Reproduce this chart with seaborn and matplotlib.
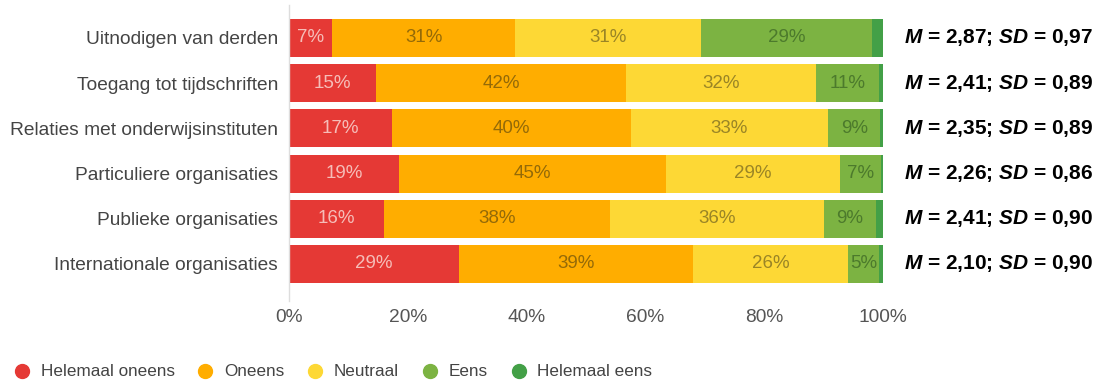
import matplotlib
matplotlib.use("Agg")
import matplotlib.pyplot as plt
from matplotlib.lines import Line2D
import numpy as np
import pandas as pd
import seaborn as sns

# ---- data -----------------------------------------------------------------
categories = [
    "Uitnodigen van derden",
    "Toegang tot tijdschriften",
    "Relaties met onderwijsinstituten",
    "Particuliere organisaties",
    "Publieke organisaties",
    "Internationale organisaties",
]
levels = ["Helemaal oneens", "Oneens", "Neutraal", "Eens", "Helemaal eens"]

helemaal_oneens = [7.3, 14.7, 17.4, 18.6, 16.0, 28.7]
oneens = [30.8, 42.0, 40.1, 44.8, 38.0, 39.3]
neutraal = [31.2, 32.0, 33.3, 29.3, 36.0, 26.1]
eens = [28.9, 10.6, 8.7, 6.9, 8.9, 5.2]
helemaal_eens = [1.8, 0.7, 0.5, 0.4, 1.1, 0.7]

means = ["2,87", "2,41", "2,35", "2,26", "2,41", "2,10"]
sds = ["0,97", "0,89", "0,89", "0,86", "0,90", "0,90"]

colors = ["#e53935", "#ffad00", "#fdd835", "#7cb342", "#43a047"]
label_colors = ["#f6bdb8", "#946a08", "#9a8526", "#4c7a2c", "#2e6b31"]

# ---- styling --------------------------------------------------------------
sns.set_theme(style="white")
plt.rcParams["font.family"] = ["Liberation Sans", "DejaVu Sans"]
plt.rcParams["mathtext.fontset"] = "custom"
plt.rcParams["mathtext.bfit"] = "Liberation Sans:bold:italic"
plt.rcParams["mathtext.bf"] = "Liberation Sans:bold"
plt.rcParams["mathtext.rm"] = "Liberation Sans:bold"

series = [helemaal_oneens, oneens, neutraal, eens, helemaal_eens]
df = pd.DataFrame({lvl: vals for lvl, vals in zip(levels, series)}, index=categories)
cum = df.cumsum(axis=1)

fig = plt.figure(figsize=(11, 3.8), dpi=100)
ax = fig.add_axes([289 / 1100, 1 - 301 / 380, (883 - 289) / 1100, (301 - 5) / 380])

# stacked bars: draw cumulative totals from the outermost level inwards
for lvl, col in reversed(list(zip(levels, colors))):
    sns.barplot(
        x=cum[lvl].values, y=categories, orient="h", color=col,
        saturation=1, width=0.84, ax=ax, linewidth=0,
    )

# percentage labels inside the segments
starts = cum.shift(1, axis=1).fillna(0)
for i, cat in enumerate(categories):
    for j, lvl in enumerate(levels):
        v = df.loc[cat, lvl]
        if v < 3:
            continue
        mid = starts.loc[cat, lvl] + v / 2
        ax.text(mid, i, f"{round(v):d}%", ha="center", va="center",
                fontsize=13.5, color=label_colors[j])

# mean / SD annotations right of the bars
for i in range(len(categories)):
    ax.text(103.6, i, rf"$\mathbfit{{M}}$ = {means[i]}; $\mathbfit{{SD}}$ = {sds[i]}",
            ha="left", va="center", fontsize=15, fontweight="bold",
            color="#000000", clip_on=False)

ax.set_xlim(0, 100)
ax.set_ylim(5.82, -0.73)
ax.set_xticks([0, 20, 40, 60, 80, 100])
ax.set_xticklabels([f"{t}%" for t in [0, 20, 40, 60, 80, 100]])
ax.tick_params(axis="x", length=0, pad=6, labelsize=13.8, labelcolor="#555555")
ax.tick_params(axis="y", length=0, pad=8, labelsize=13.8, labelcolor="#444444")
ax.set_xlabel("")
ax.set_ylabel("")
for side in ["top", "right", "bottom"]:
    ax.spines[side].set_visible(False)
ax.spines["left"].set_color("#dddddd")
ax.spines["left"].set_linewidth(1)
ax.grid(False)

# legend with round markers
handles = [
    Line2D([0], [0], marker="o", linestyle="none", markersize=10,
           markerfacecolor=c, markeredgecolor=c, label=l)
    for l, c in zip(levels, colors)
]
fig.legend(handles=handles, loc="center left", bbox_to_anchor=(15 / 1100, 1 - 372 / 380),
           ncol=5, frameon=False, fontsize=12.3, handlelength=0.8, handletextpad=0.7,
           columnspacing=1.4, labelcolor="#444444", borderaxespad=0, borderpad=0)

fig.savefig("out.png", dpi=100, facecolor="white")
